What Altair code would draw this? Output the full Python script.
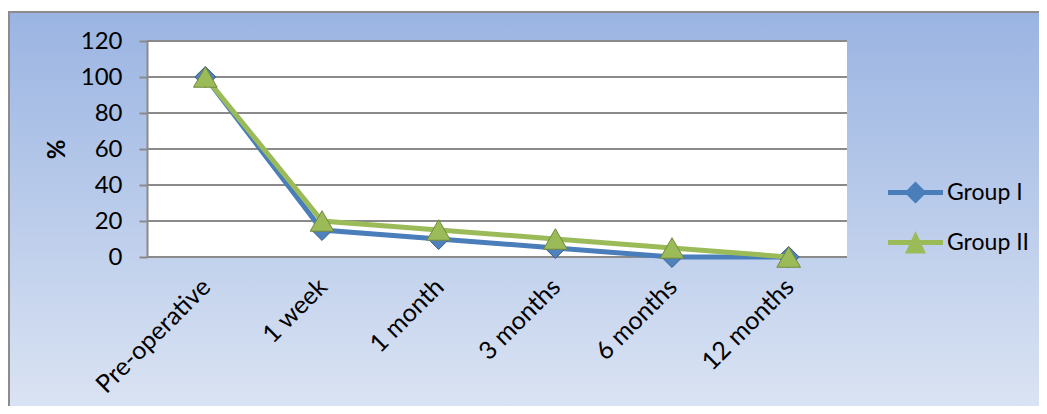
import altair as alt
import pandas as pd

# ---- data ----
categories = ["Pre-operative", "1 week", "1 month", "3 months", "6 months", "12 months"]
group1 = [100, 15, 10, 5, 0, 0]
group2 = [100, 20, 15, 10, 5, 0]
groups = ["Group I", "Group II"]
y_ticks = [0, 20, 40, 60, 80, 100, 120]

rows = []
for c, a, b in zip(categories, group1, group2):
    rows.append({"time": c, "group": groups[0], "value": a})
    rows.append({"time": c, "group": groups[1], "value": b})
df = pd.DataFrame(rows)

W, H = 700, 216
FONT = "Lato"
BLUE, GREEN = "#4a7ebb", "#9bbb59"
GRID = "#8a8a8a"

cscale = alt.Scale(domain=groups, range=[BLUE, GREEN])
yscale = alt.Scale(domain=[0, 120])

x_axis = alt.Axis(title=None, labelAngle=-45, labelFontSize=25, labelFont=FONT,
                  labelColor="black", ticks=False, domain=False, grid=False,
                  labelPadding=17, labelOffset=-8, zindex=1)
y_axis = alt.Axis(title="%", values=y_ticks, titleFontSize=24, titleFont=FONT,
                  titleFontWeight="bold", titleColor="black", titlePadding=11,
                  labelFontSize=24, labelFont=FONT, labelColor="black",
                  labelPadding=17, tickSize=8, tickColor=GRID, tickWidth=2,
                  domainColor=GRID, domainWidth=2, grid=False, zindex=1)

x_enc = alt.X("time:N", sort=categories,
              scale=alt.Scale(type="point", padding=0.5), axis=x_axis)
y_enc = alt.Y("value:Q", scale=yscale, axis=y_axis)

one = pd.DataFrame({"a": [0]})

bg = alt.Chart(one).mark_rect(
    fill=alt.Gradient(
        gradient="linear",
        stops=[alt.GradientStop(color="#9ab4e2", offset=0),
               alt.GradientStop(color="#dee6f4", offset=1)],
        x1=0, x2=0, y1=0, y2=1),
    stroke="#8c8c8c", strokeWidth=2,
).encode(x=alt.value(-138), x2=alt.value(910), y=alt.value(-29), y2=alt.value(390))

plot_bg = alt.Chart(one).mark_rect(fill="white").encode(
    x=alt.value(0), x2=alt.value(W), y=alt.value(0), y2=alt.value(H))

grid = alt.Chart(pd.DataFrame({"v": y_ticks})).mark_rule(
    color=GRID, strokeWidth=2).encode(y=alt.Y("v:Q", scale=yscale, axis=y_axis))

line1 = alt.Chart(df).transform_filter(alt.datum.group == groups[0]).mark_line(
    strokeWidth=5, color=BLUE).encode(x=x_enc, y=y_enc)
line2 = alt.Chart(df).transform_filter(alt.datum.group == groups[1]).mark_line(
    strokeWidth=5, color=GREEN).encode(x=x_enc, y=y_enc)

pts1 = alt.Chart(df).transform_filter(alt.datum.group == groups[0]).mark_point(
    shape="diamond", filled=True, size=440, fill="#4f81bd",
    stroke="#385d8a", strokeWidth=1, opacity=1,
).encode(x=x_enc, y=y_enc)

pts2 = alt.Chart(df).transform_filter(alt.datum.group == groups[1]).mark_point(
    shape="triangle-up", filled=True, size=560, fill="#9bbb59",
    stroke="#71893f", strokeWidth=1, opacity=1,
).encode(x=x_enc, y=y_enc)

path1 = "M-2.5,-0.22H2.5V0.22H-2.5Z M0,-1L1,0L0,1L-1,0Z"
path2 = "M-2.5,-0.22H2.5V0.22H-2.5Z M0,-1.05L0.95,1L-0.95,1Z"

leg_props = dict(title=None, orient="none", legendX=740, legendY=140,
                 symbolSize=484, symbolOffset=17, labelOffset=20,
                 labelFontSize=23, labelFont=FONT, labelColor="black",
                 rowPadding=25, symbolStrokeWidth=0, padding=0)

legend_layer = alt.Chart(df).transform_filter("false").mark_point(
    filled=True, opacity=1).encode(
    x=x_enc, y=y_enc,
    color=alt.Color("group:N", scale=cscale, legend=alt.Legend(**leg_props)),
    shape=alt.Shape("group:N", scale=alt.Scale(domain=groups, range=[path1, path2]),
                    legend=alt.Legend(**leg_props)),
)

chart = alt.layer(bg, plot_bg, grid, line1, pts1, line2, pts2, legend_layer).properties(
    width=W, height=H,
    autosize=alt.AutoSizeParams(type="none"),
    padding={"left": 139, "top": 33, "right": 192, "bottom": 149},
).configure_view(stroke=None).configure(background="white")

chart.save("out.html", embed_options={"renderer": "svg", "actions": False})
